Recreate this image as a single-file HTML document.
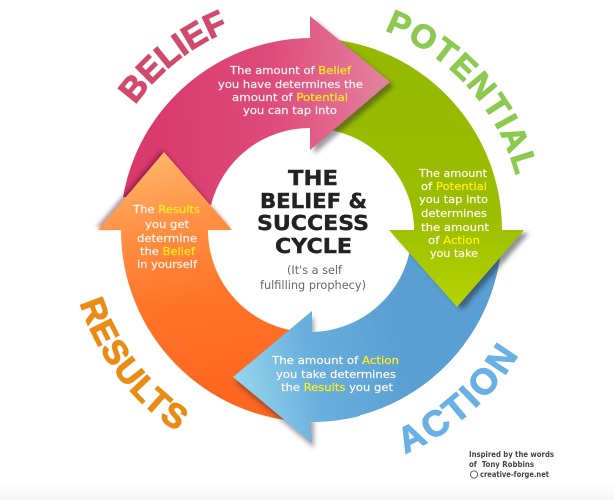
<!DOCTYPE html>
<html>
<head>
<meta charset="utf-8">
<style>
html,body{margin:0;padding:0;background:#fff;}
svg{display:block;}
.lb{font-family:"Liberation Sans",sans-serif;font-weight:bold;stroke-width:1.1px;}
.t{font-family:"DejaVu Sans",sans-serif;font-size:11px;fill:#fff6f4;stroke:#fff6f4;stroke-width:.2px;}
.y{fill:#ffee1a;stroke:#ffee1a;}
.h{font-family:"DejaVu Sans",sans-serif;font-weight:bold;font-size:20px;fill:#222;stroke:#222;stroke-width:.4px;text-anchor:start;}
.s{font-family:"DejaVu Sans",sans-serif;font-size:11.5px;fill:#666;}
.f{font-family:"DejaVu Sans",sans-serif;font-weight:bold;font-size:7.5px;fill:#444;}
</style>
</head>
<body>
<svg width="614" height="500" viewBox="0 0 614 500" xmlns="http://www.w3.org/2000/svg">
<defs>
<linearGradient id="bg" x1="0" y1="480" x2="0" y2="500" gradientUnits="userSpaceOnUse"><stop offset="0" stop-color="#fff"/><stop offset="1" stop-color="#f6f6f6"/></linearGradient>
<linearGradient id="pink" x1="150" y1="100" x2="390" y2="90" gradientUnits="userSpaceOnUse"><stop offset="0" stop-color="#d93a6c"/><stop offset=".5" stop-color="#de4a7b"/><stop offset=".78" stop-color="#e2688f"/><stop offset="1" stop-color="#e2869f"/></linearGradient>
<linearGradient id="green" x1="0" y1="60" x2="0" y2="307" gradientUnits="userSpaceOnUse"><stop offset="0" stop-color="#95b900"/><stop offset=".65" stop-color="#9cbe00"/><stop offset="1" stop-color="#b5d400"/></linearGradient>
<linearGradient id="blue" x1="235" y1="377" x2="400" y2="340" gradientUnits="userSpaceOnUse"><stop offset="0" stop-color="#96d5ec"/><stop offset=".45" stop-color="#68afdc"/><stop offset="1" stop-color="#5a9fd2"/></linearGradient>
<linearGradient id="orange" x1="164" y1="152" x2="215" y2="400" gradientUnits="userSpaceOnUse"><stop offset="0" stop-color="#ffb468"/><stop offset=".3" stop-color="#ff8f42"/><stop offset=".6" stop-color="#ff7428"/><stop offset="1" stop-color="#fd6620"/></linearGradient>
<filter id="b" x="-30%" y="-30%" width="160%" height="160%"><feGaussianBlur stdDeviation="2.5"/></filter>
<path id="pb" d="M135.2 104.9A215 215 0 0 1 310 15"/>
<path id="pp" d="M384.6 30.4A213 213 0 0 1 523 230"/>
<path id="pa" d="M405 453.6A243 243 0 0 0 553 230"/>
<path id="pr" d="M80 303A241.3 241.3 0 0 0 310 471.3"/>
</defs>
<rect width="614" height="500" fill="url(#bg)"/>

<path fill="url(#blue)" d="M502 230A192 192 0 0 1 310 422L312 443L233 377L312 311L312 332A102 102 0 0 0 412 230Z"/>
<polygon points="389,230 524,230 457,307" fill="#223" opacity=".5" filter="url(#b)" transform="translate(5,3)"/>
<path fill="url(#green)" d="M310 38A192 192 0 0 1 502 230L524 230L457 307L389 230L414 230A104 102 0 0 0 310 128Z"/>
<polygon points="310,16 390,82 310,150" fill="#223" opacity=".45" filter="url(#b)" transform="translate(4,4)"/>
<path fill="url(#pink)" d="M123 197A192 192 0 0 1 310 38L310 16L390 82L310 150L310 128A102 102 0 0 0 211 205Z"/>
<polygon points="164,152 98,230 232,230" fill="#402" opacity=".45" filter="url(#b)" transform="translate(-2,-2)"/>
<path fill="url(#orange)" d="M310 422A192 192 0 0 1 121 230L98 230L164 152L232 230L208 230A102 102 0 0 0 310 332Z"/>
<polygon points="312,311 233,377 312,443" fill="#223" opacity=".4" filter="url(#b)" transform="translate(2,5)"/>
<path fill="url(#blue)" d="M360 416A192 192 0 0 1 310 422L312 443L233 377L312 311L312 332A102 102 0 0 0 345 326Z"/>

<text class="lb" font-size="34" fill="#d14a6c" stroke="#d14a6c"><textPath href="#pb">BELIEF</textPath></text>
<text class="lb" font-size="33" fill="#8cc950" stroke="#8cc950" letter-spacing="2"><textPath href="#pp">POTENTIAL</textPath></text>
<text class="lb" font-size="36" fill="#69b0e4" stroke="#69b0e4" letter-spacing="3"><textPath href="#pa">ACTION</textPath></text>
<text class="lb" font-size="34" fill="#e98b14" stroke="#e98b14" letter-spacing="1.3"><textPath href="#pr">RESULTS</textPath></text>

<text class="h" x="288" y="185" textLength="50" lengthAdjust="spacingAndGlyphs">THE</text>
<text class="h" x="260" y="208" textLength="107" lengthAdjust="spacingAndGlyphs">BELIEF &amp;</text>
<text class="h" x="257" y="230" textLength="112" lengthAdjust="spacingAndGlyphs">SUCCESS</text>
<text class="h" x="275" y="253" textLength="77" lengthAdjust="spacingAndGlyphs">CYCLE</text>
<text class="s" x="287" y="274" textLength="55" lengthAdjust="spacingAndGlyphs">(It's a self</text>
<text class="s" x="260" y="289" textLength="106" lengthAdjust="spacingAndGlyphs">fulfilling prophecy)</text>

<text class="t" x="230" y="74" textLength="121" lengthAdjust="spacingAndGlyphs">The amount of <tspan class="y">Belief</tspan></text>
<text class="t" x="218" y="88" textLength="145" lengthAdjust="spacingAndGlyphs">you have determines the</text>
<text class="t" x="232" y="101" textLength="116" lengthAdjust="spacingAndGlyphs">amount of <tspan class="y">Potential</tspan></text>
<text class="t" x="243" y="114" textLength="94" lengthAdjust="spacingAndGlyphs">you can tap into</text>

<text class="t" x="419" y="177" textLength="68" lengthAdjust="spacingAndGlyphs">The amount</text>
<text class="t" x="421" y="190" textLength="66" lengthAdjust="spacingAndGlyphs">of <tspan class="y">Potential</tspan></text>
<text class="t" x="419" y="203" textLength="69" lengthAdjust="spacingAndGlyphs">you tap into</text>
<text class="t" x="421" y="217" textLength="66" lengthAdjust="spacingAndGlyphs">determines</text>
<text class="t" x="421" y="231" textLength="68" lengthAdjust="spacingAndGlyphs">the amount</text>
<text class="t" x="428" y="244" textLength="52" lengthAdjust="spacingAndGlyphs">of <tspan class="y">Action</tspan></text>
<text class="t" x="430" y="257" textLength="48" lengthAdjust="spacingAndGlyphs">you take</text>

<text class="t" x="133" y="213" textLength="67" lengthAdjust="spacingAndGlyphs">The <tspan class="y">Results</tspan></text>
<text class="t" x="145" y="228" textLength="44" lengthAdjust="spacingAndGlyphs">you get</text>
<text class="t" x="137" y="242" textLength="60" lengthAdjust="spacingAndGlyphs">determine</text>
<text class="t" x="140" y="255" textLength="55" lengthAdjust="spacingAndGlyphs">the <tspan class="y">Belief</tspan></text>
<text class="t" x="137" y="268" textLength="60" lengthAdjust="spacingAndGlyphs">in yourself</text>

<text class="t" x="272" y="364" textLength="127" lengthAdjust="spacingAndGlyphs">The amount of <tspan class="y">Action</tspan></text>
<text class="t" x="276" y="378" textLength="120" lengthAdjust="spacingAndGlyphs">you take determines</text>
<text class="t" x="281" y="391" textLength="112" lengthAdjust="spacingAndGlyphs">the <tspan class="y">Results</tspan> you get</text>

<text class="f" x="469" y="457" textLength="85" lengthAdjust="spacingAndGlyphs">Inspired by the words</text>
<text class="f" x="469" y="467" textLength="65" lengthAdjust="spacingAndGlyphs" xml:space="preserve">of  Tony Robbins</text>
<circle cx="474" cy="474.5" r="3.6" fill="none" stroke="#444" stroke-width=".8"/>
<text class="f" x="480" y="477" textLength="69" lengthAdjust="spacingAndGlyphs">creative-forge.net</text>
</svg>
</body>
</html>
